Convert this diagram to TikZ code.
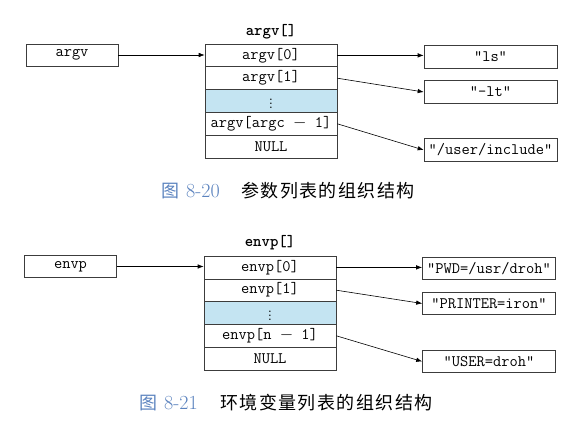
\documentclass[tikz,border=0pt]{standalone}
\usepackage{fontspec}
\usepackage{xcolor}
\usepackage{tikz}
\usetikzlibrary{arrows.meta, positioning, calc}
\newfontfamily\cjk{Noto Sans CJK SC}[LetterSpace=8]
\definecolor{cellblue}{RGB}{196, 228, 242}
\definecolor{captionblue}{RGB}{90, 130, 190}
\definecolor{boxgray}{RGB}{60, 60, 60}

\begin{document}
\begin{tikzpicture}[x=1pt, y=-1pt,
    every node/.style={font=\fontsize{16}{18}\selectfont\ttfamily, inner sep=0pt},
    cellbox/.style={draw=boxgray, line width=0.6pt, minimum width=132pt, minimum height=22.8pt},
    ptrbox/.style={draw=boxgray, line width=0.6pt, minimum width=92pt, minimum height=22pt},
    strbox/.style={draw=boxgray, line width=0.6pt, minimum width=133pt, minimum height=22.5pt},
    ptr/.style={-{Latex[length=6pt, width=4.5pt]}, line width=0.6pt},
    caption/.style={font=\fontsize{18}{20}\selectfont\cjk, anchor=west}]
    \useasboundingbox (0,0) rectangle (581,422);

    % argv list
    \node[font=\fontsize{16}{18}\selectfont\ttfamily\bfseries] (atitle) at (271,32) {argv[]};
    \node[ptrbox] (argv) at (72,55) {argv};
    \node[cellbox] (a0) at (271,55.4) {argv[0]};
    \node[cellbox] (a1) at (271,78.2) {argv[1]};
    \node[cellbox, fill=cellblue] (a2) at (271,101) {\fontsize{13}{14}\selectfont$\vdots$};
    \node[cellbox] (a3) at (271,123.8) {argv[argc $-$ 1]};
    \node[cellbox] (a4) at (271,146.6) {NULL};
    \node[strbox] (s0) at (490.5,57) {"ls"};
    \node[strbox] (s1) at (490.5,92) {"-lt"};
    \node[strbox] (s2) at (490.5,150) {"/user/include"};

    \draw[ptr] (argv.east) -- (a0.west |- argv.east);
    \draw[ptr] (a0.east) -- (s0.west |- a0.east);
    \draw[ptr] (a1.east) -- (s1.west);
    \draw[ptr] (a3.east) -- (s2.west);

    \node[caption, text=captionblue] (cap1n) at (161,191) {图\hspace{7pt}{\rmfamily\fontsize{20}{22}\selectfont 8-20}};
    \node[caption] (cap1) at (241,191) {参数列表的组织结构};

    % envp list
    \node[font=\fontsize{16}{18}\selectfont\ttfamily\bfseries] (etitle) at (270,243) {envp[]};
    \node[ptrbox] (envp) at (70.5,266.5) {envp};
    \node[cellbox] (e0) at (270,267.4) {envp[0]};
    \node[cellbox] (e1) at (270,290.2) {envp[1]};
    \node[cellbox, fill=cellblue] (e2) at (270,313) {\fontsize{13}{14}\selectfont$\vdots$};
    \node[cellbox] (e3) at (270,335.8) {envp[n $-$ 1]};
    \node[cellbox] (e4) at (270,358.6) {NULL};
    \node[strbox] (t0) at (489,268.5) {"PWD=/usr/droh"};
    \node[strbox] (t1) at (489,303.5) {"PRINTER=iron"};
    \node[strbox] (t2) at (489,361.5) {"USER=droh"};

    \draw[ptr] (envp.east) -- (e0.west |- envp.east);
    \draw[ptr] (e0.east) -- (t0.west |- e0.east);
    \draw[ptr] (e1.east) -- (t1.west);
    \draw[ptr] (e3.east) -- (t2.west);

    \node[caption, text=captionblue] (cap2n) at (139,403) {图\hspace{7pt}{\rmfamily\fontsize{20}{22}\selectfont 8-21}};
    \node[caption] (cap2) at (220,403) {环境变量列表的组织结构};
\end{tikzpicture}
\end{document}
